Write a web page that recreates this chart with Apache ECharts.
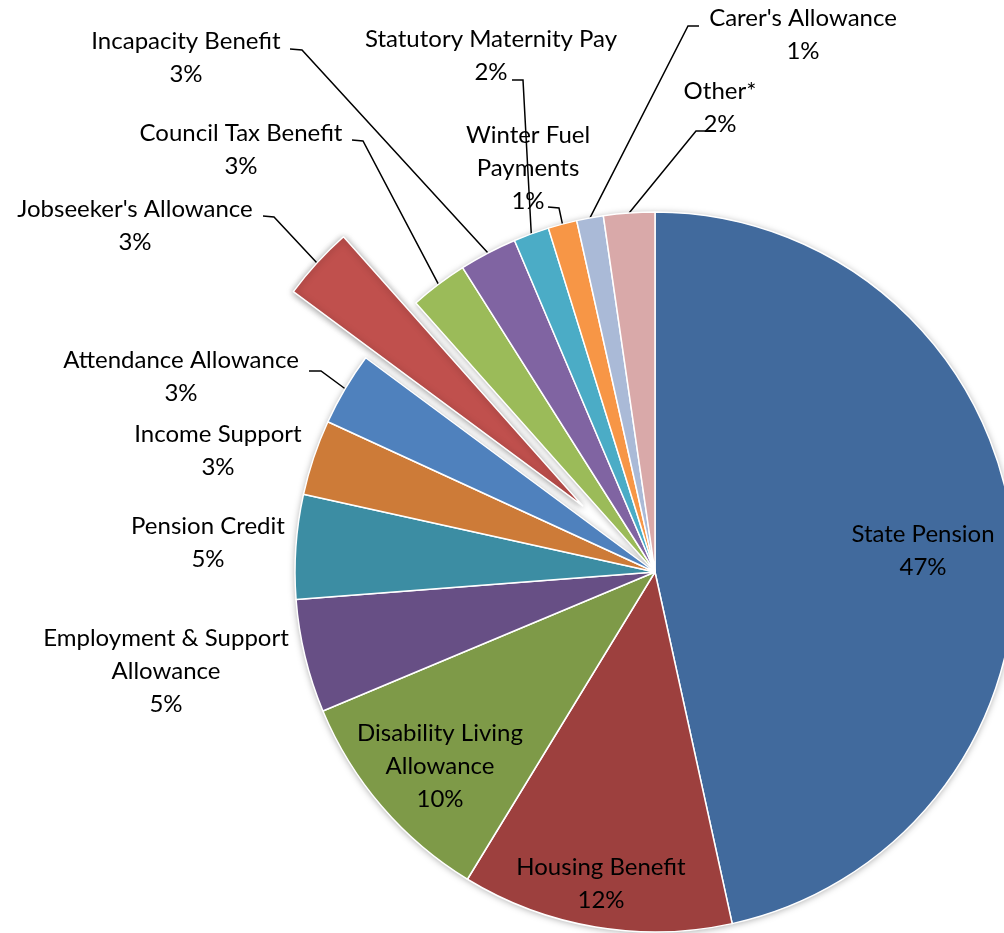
<!DOCTYPE html>
<html>
<head>
<meta charset="utf-8">
<title>Benefit expenditure by benefit</title>
<script src="https://cdn.jsdelivr.net/npm/echarts@6/dist/echarts.min.js"></script>
<style>
  html, body { margin: 0; padding: 0; background: #fff; }
  #chart { width: 1004px; height: 933px; }
</style>
</head>
<body>
<div id="chart"></div>
<script>
// slices, clockwise from 12 o'clock
const benefits = [
  'State Pension', 'Housing Benefit', 'Disability Living Allowance',
  'Employment & Support Allowance', 'Pension Credit', 'Income Support',
  'Attendance Allowance', "Jobseeker's Allowance", 'Council Tax Benefit',
  'Incapacity Benefit', 'Statutory Maternity Pay', 'Winter Fuel Payments',
  "Carer's Allowance", 'Other*'
];
// share of spending in %
const shares = [46.7, 12.2, 10.0, 5.1, 4.7, 3.4, 3.3, 3.3, 2.6, 2.6, 1.6, 1.3, 1.2, 2.3];
const sliceColors = [
  '#416A9D', '#9D403E', '#7E9A48', '#674F85', '#3C8DA3', '#CD7B38',
  '#4F81BD', '#C0504D', '#9BBB59', '#8064A2', '#4BACC6', '#F79646',
  '#AABAD7', '#D9A9A9'
];
const explodedSlice = "Jobseeker's Allowance";
const explodeBy = 98; // px the slice is pulled out

// where the labels break onto a second line
const labelBreaks = {
  'Disability Living Allowance': 'Disability Living\nAllowance',
  'Employment & Support Allowance': 'Employment & Support\nAllowance',
  'Winter Fuel Payments': 'Winter Fuel\nPayments'
};

// label placement as in the original: centre of text block, leader line bend + end
const labelSpots = {
  'State Pension': { c: [923, 551] },
  'Housing Benefit': { c: [601, 884] },
  'Disability Living Allowance': { c: [440, 766] },
  'Employment & Support Allowance': { c: [166, 671] },
  'Pension Credit': { c: [208, 543] },
  'Income Support': { c: [218, 451] },
  'Attendance Allowance': { c: [181, 377], line: [[321, 371], [309, 371]] },
  "Jobseeker's Allowance": { c: [135, 226], line: [[274, 217], [263, 216]] },
  'Council Tax Benefit': { c: [241, 150], line: [[363, 141], [352, 140]] },
  'Incapacity Benefit': { c: [186, 58], line: [[302, 50], [290, 49]] },
  'Statutory Maternity Pay': { c: [491, 56], line: [[523, 80], [512, 80]] },
  'Winter Fuel Payments': { c: [528, 168], line: [[559, 208], [548, 207]] },
  "Carer's Allowance": { c: [803, 35], line: [[688, 26], [699, 26]] },
  'Other*': { c: [720, 108], line: [[696, 131], [707, 131]] }
};

const center = [655, 572];
const radius = 360;

// centre for the pulled-out slice: move along its mid angle
const total = shares.reduce((a, b) => a + b, 0);
const expIdx = benefits.indexOf(explodedSlice);
const before = shares.slice(0, expIdx).reduce((a, b) => a + b, 0);
const midAngle = (before + shares[expIdx] / 2) / total * 2 * Math.PI;
const explodedCenter = [
  center[0] + Math.sin(midAngle) * explodeBy,
  center[1] - Math.cos(midAngle) * explodeBy
];

const chart = echarts.init(document.getElementById('chart'));

const hidden = { color: 'rgba(0,0,0,0)', borderWidth: 0, shadowBlur: 0 };

// all slices except the exploded one
const sliceData = benefits.map((name, i) => ({
  name: name,
  value: shares[i],
  itemStyle: name === explodedSlice ? hidden : { color: sliceColors[i] },
  label: { show: name !== explodedSlice },
  labelLine: { show: name !== explodedSlice && !!labelSpots[name].line }
}));

// only the exploded slice, drawn from its shifted centre
const explodedData = benefits.map((name, i) => ({
  name: name,
  value: shares[i],
  itemStyle: name === explodedSlice
    ? { color: sliceColors[i], shadowBlur: 7, shadowColor: 'rgba(0,0,0,0.4)', shadowOffsetY: 1 }
    : hidden,
  label: { show: name === explodedSlice },
  labelLine: { show: name === explodedSlice }
}));

// white copy underneath, only there to give the pie its soft outer shadow
const shadowData = benefits.map((name, i) => ({
  name: name,
  value: shares[i],
  itemStyle: { color: name === explodedSlice ? 'rgba(0,0,0,0)' : '#fff' }
}));

const labelStyle = {
  position: 'outside',
  fontFamily: 'Lato',
  fontSize: 24,
  lineHeight: 33,
  color: '#000',
  formatter: p => (labelBreaks[p.name] || p.name) + '\n' + Math.round(p.percent) + '%'
};

function placeLabel(params) {
  const spot = labelSpots[benefits[params.dataIndex]];
  const out = { x: spot.c[0], y: spot.c[1], align: 'center', verticalAlign: 'middle' };
  if (spot.line && params.labelLinePoints) {
    out.labelLinePoints = [params.labelLinePoints[0], spot.line[0], spot.line[1]];
  }
  return out;
}

const pieBase = {
  type: 'pie',
  radius: radius,
  startAngle: 90,
  avoidLabelOverlap: false,
  selectedMode: false,
  emphasis: { disabled: true },
  itemStyle: { borderColor: '#fff', borderWidth: 1.5 },
  label: labelStyle,
  labelLine: { lineStyle: { color: '#000', width: 1.5 }, smooth: false },
  labelLayout: placeLabel
};

chart.setOption({
  animation: false,
  series: [
    {
      type: 'pie',
      silent: true,
      center: center,
      radius: radius,
      startAngle: 90,
      label: { show: false },
      labelLine: { show: false },
      itemStyle: { shadowBlur: 7, shadowColor: 'rgba(0,0,0,0.35)', shadowOffsetY: 1 },
      data: shadowData
    },
    Object.assign({}, pieBase, { center: center, data: sliceData }),
    Object.assign({}, pieBase, { center: explodedCenter, data: explodedData })
  ]
});
</script>
</body>
</html>
